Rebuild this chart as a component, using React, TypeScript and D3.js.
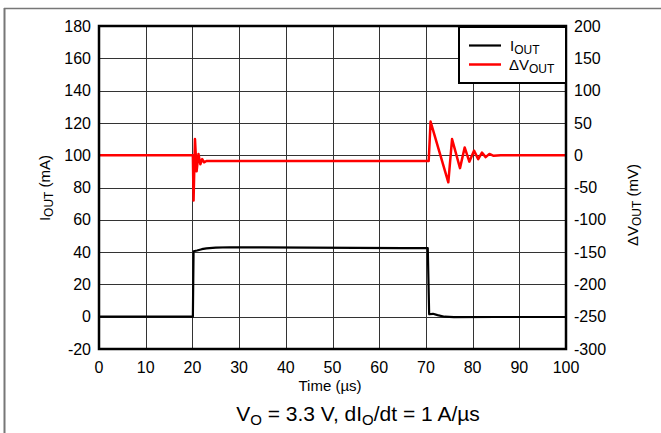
import React from "react";
import * as d3 from "d3";

const timeTicks = [0, 10, 20, 30, 40, 50, 60, 70, 80, 90, 100];
const currentTicks = [-20, 0, 20, 40, 60, 80, 100, 120, 140, 160, 180];
const voltageTicks = [-300, -250, -200, -150, -100, -50, 0, 50, 100, 150, 200];

// I_OUT (mA) vs time (µs)
const ioutTime = [0, 5, 10, 15, 20.1, 20.25, 21, 22, 23, 25, 28, 35, 45, 55, 65, 70.4, 70.7, 71.5, 72.5, 74, 76, 85, 100];
const ioutValue = [0, 0, 0, 0, 0, 40.5, 41, 41.8, 42.3, 42.8, 43, 42.9, 42.8, 42.6, 42.5, 42.4, 1.5, 1.8, 1, 0, -0.3, -0.2, -0.2];

// ΔV_OUT (mV) vs time (µs)
const dvTime = [0, 10, 20.1, 20.25, 20.55, 20.9, 21.3, 21.7, 22.1, 22.5, 23, 30, 40, 50, 60, 70.6, 71.0, 74.8, 75.6, 77.3, 78.3, 79.3, 80.3, 81.2, 82.0, 82.8, 83.6, 84.5, 86, 100];
const dvValue = [0, 0, 0, -70, 25, -25, 2, -14, -6, -11, -9, -9, -9, -9, -9, -9, 52, -42, 25, -20, 12, -10, 7, -6, 4, -3, 2, -1, 0, 0];

const FONT = "'Liberation Sans', Arial, sans-serif";

export default function App() {
  const W = 661, H = 433;
  const x0 = 99, x1 = 566, y0 = 26, y1 = 349;
  const x = d3.scaleLinear().domain([0, 100]).range([x0, x1]);
  const yL = d3.scaleLinear().domain([-20, 180]).range([y1, y0]);
  const yR = d3.scaleLinear().domain([-300, 200]).range([y1, y0]);

  const lineI = d3.line<number>().x((_, i) => x(ioutTime[i])).y((d) => yL(d));
  const lineV = d3.line<number>().x((_, i) => x(dvTime[i])).y((d) => yR(d));

  return (
    <svg width={W} height={H} style={{ position: "absolute", left: 0, top: 0, background: "#fff" }} fontFamily={FONT}>
      <rect x={0} y={0} width={W} height={H} fill="#fff" />
      {/* outer frame */}
      <line x1={4.5} x2={4.5} y1={8} y2={H} stroke="#777" strokeWidth={2} />
      <line x1={4} x2={W} y1={8.5} y2={8.5} stroke="#777" strokeWidth={1.5} />

      {/* grid */}
      {timeTicks.map((t) => (
        <line key={"gx" + t} x1={Math.round(x(t)) + 0.5} x2={Math.round(x(t)) + 0.5} y1={y0} y2={y1} stroke="#333" strokeWidth={1} />
      ))}
      {currentTicks.map((v) => (
        <line key={"gy" + v} x1={x0} x2={x1} y1={Math.round(yL(v)) + 0.5} y2={Math.round(yL(v)) + 0.5} stroke="#333" strokeWidth={1} />
      ))}

      {/* data */}
      <path d={lineI(ioutValue) || ""} fill="none" stroke="#000" strokeWidth={2.2} strokeLinejoin="round" />
      <path d={lineV(dvValue) || ""} fill="none" stroke="#ff0000" strokeWidth={2.5} strokeLinejoin="round" />

      {/* plot border */}
      <rect x={x0} y={y0} width={x1 - x0} height={y1 - y0} fill="none" stroke="#000" strokeWidth={2.5} />

      {/* legend */}
      <rect x={459} y={27} width={x1 - 459} height={56} fill="#fff" stroke="#000" strokeWidth={2} />
      <line x1={469} x2={501} y1={45.5} y2={45.5} stroke="#000" strokeWidth={2.2} />
      <line x1={469} x2={501} y1={64.5} y2={64.5} stroke="#ff0000" strokeWidth={2.5} />
      <text x={510} y={51} fontSize={15} fill="#000">
        I<tspan fontSize={12} dy={3}>OUT</tspan>
      </text>
      <text x={509} y={70} fontSize={15} fill="#000">
        ΔV<tspan fontSize={12} dy={3}>OUT</tspan>
      </text>

      {/* left ticks */}
      {currentTicks.map((v) => (
        <text key={"tl" + v} x={91} y={yL(v)} dy="0.35em" textAnchor="end" fontSize={16} fill="#000">
          {v}
        </text>
      ))}
      {/* right ticks */}
      {voltageTicks.map((v) => (
        <text key={"tr" + v} x={574} y={yR(v)} dy="0.35em" textAnchor="start" fontSize={16} fill="#000">
          {v}
        </text>
      ))}
      {/* bottom ticks */}
      {timeTicks.map((t) => (
        <text key={"tb" + t} x={x(t)} y={373} textAnchor="middle" fontSize={16} fill="#000">
          {t}
        </text>
      ))}

      <text x={330} y={391} textAnchor="middle" fontSize={15} fill="#000">
        Time (µs)
      </text>

      <text transform="translate(50,188) rotate(-90)" textAnchor="middle" fontSize={15} fill="#000">
        I<tspan fontSize={12} dy={3}>OUT</tspan><tspan dy={-3}> (mA)</tspan>
      </text>
      <text transform="translate(638,205) rotate(-90)" textAnchor="middle" fontSize={15} fill="#000">
        ΔV<tspan fontSize={12} dy={3}>OUT</tspan><tspan dy={-3}> (mV)</tspan>
      </text>

      <text x={358} y={421} textAnchor="middle" fontSize={21} fill="#000">
        V<tspan fontSize={15} dy={4}>O</tspan><tspan dy={-4}> = 3.3 V, dI</tspan><tspan fontSize={15} dy={4}>O</tspan><tspan dy={-4}>/dt = 1 A/µs</tspan>
      </text>
    </svg>
  );
}
